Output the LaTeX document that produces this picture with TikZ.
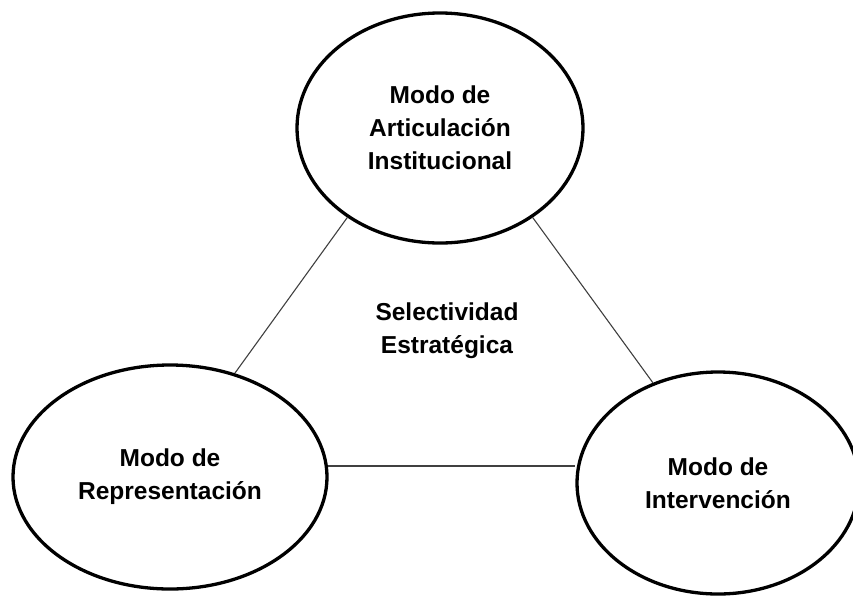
\documentclass[tikz,border=0pt]{standalone}
\usepackage{fontspec}
\setmainfont{Liberation Sans}
\usetikzlibrary{shapes.geometric}
\tikzset{
  mode/.style={ellipse, draw=black, line width=3.3pt, inner sep=0pt, align=center,
    font=\bfseries\fontsize{24.5}{33}\selectfont},
  link/.style={draw=black!75, line width=1.1pt},
  lab/.style={align=center, font=\bfseries\fontsize{24.5}{33}\selectfont},
}
\begin{document}
\begin{tikzpicture}[x=1pt, y=-1pt]
  \useasboundingbox (0,0) rectangle (853,595);
  \clip (0,0) rectangle (853,595);
  \node[mode, minimum width=286pt, minimum height=230pt] (art) at (440,128)
    {Modo de\\Articulación\\Institucional};
  \node[mode, minimum width=314pt, minimum height=224pt] (rep) at (170,477)
    {Modo de\\Representación};
  \node[mode, minimum width=282pt, minimum height=222pt] (int) at (718,483)
    {Modo de\\Intervención};
  \node[lab] (sel) at (447,331) {Selectividad\\Estratégica};
  \draw[link] (art.224) -- (rep.58.8);
  \draw[link] (art.316.5) -- (int.123.4);
  \draw[link] (rep.4.8) -- (rep.4.8 -| int.west);
\end{tikzpicture}
\end{document}
